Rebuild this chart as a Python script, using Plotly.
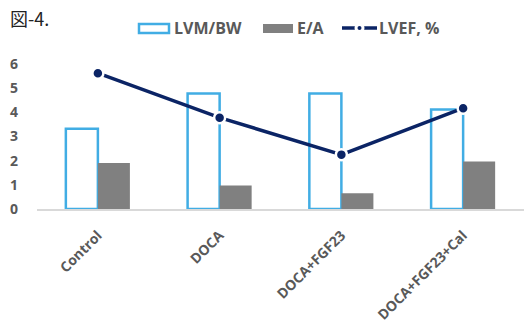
import plotly.graph_objects as go

categories = ["Control", "DOCA", "DOCA+FGF23", "DOCA+FGF23+Cal"]
lvm_bw = [3.32, 4.78, 4.78, 4.12]
e_a = [1.9, 0.97, 0.65, 1.97]
lvef = [5.62, 3.78, 2.25, 4.17]
y_ticks = [0, 1, 2, 3, 4, 5, 6]
legend_names = ["LVM/BW", "E/A", "LVEF, %"]

grey_txt = "#595959"
font_main = "Open Sans"
blue = "#41ade4"
bar_grey = "#808080"
navy = "#0b2465"

W, H = 524, 329
ML, MR, MT, MB = 37, 0, 64, 120
PW, PH = W - ML - MR, H - MT - MB


def px(x):
    return (x - ML) / PW


def py(y):
    return (H - MB - y) / PH


fig = go.Figure()
fig.add_trace(go.Bar(
    x=categories, y=lvm_bw, name=legend_names[0],
    marker=dict(color="white", line=dict(color=blue, width=2.5)),
))
fig.add_trace(go.Bar(
    x=categories, y=e_a, name=legend_names[1],
    marker=dict(color=bar_grey, line=dict(width=0)),
))
fig.add_trace(go.Scatter(
    x=categories, y=lvef, name=legend_names[2], mode="lines+markers",
    line=dict(color=navy, width=3.5),
    marker=dict(size=11, color=navy, line=dict(color="white", width=2.5)),
))

fig.update_layout(
    width=W, height=H,
    margin=dict(l=ML, r=MR, t=MT, b=MB),
    paper_bgcolor="white", plot_bgcolor="white",
    barmode="group", bargap=0.474, bargroupgap=0,
    showlegend=False,
    xaxis=dict(tickangle=-45, showline=True, linecolor="#d9d9d9", linewidth=1.5,
               tickfont=dict(family=font_main, size=14, color=grey_txt, weight="bold"),
               showgrid=False, ticks="", ticklabelstandoff=11),
    yaxis=dict(range=[0, 6], tickvals=y_ticks, showgrid=False, zeroline=False,
               showline=False, ticks="", ticklabelstandoff=18,
               tickfont=dict(family=font_main, size=14, color=grey_txt, weight="bold")),
)

# custom legend
leg_y = 28
shapes = [
    dict(type="rect", xref="paper", yref="paper", x0=px(139), x1=px(169),
         y0=py(24), y1=py(33), line=dict(color=blue, width=2.5), fillcolor="white"),
    dict(type="rect", xref="paper", yref="paper", x0=px(263), x1=px(293),
         y0=py(24), y1=py(33), line=dict(width=0), fillcolor=bar_grey),
    dict(type="line", xref="paper", yref="paper", x0=px(342), x1=px(377),
         y0=py(leg_y), y1=py(leg_y), line=dict(color=navy, width=3.5)),
    dict(type="circle", xref="paper", yref="paper", x0=px(354.5), x1=px(364.5),
         y0=py(leg_y + 5), y1=py(leg_y - 5), line=dict(width=0), fillcolor="white"),
    dict(type="circle", xref="paper", yref="paper", x0=px(357.5), x1=px(361.5),
         y0=py(leg_y + 2), y1=py(leg_y - 2), line=dict(width=0), fillcolor=navy),
]
for s in shapes:
    fig.add_shape(**s)

for name, xl in zip(legend_names, [172, 295, 377]):
    fig.add_annotation(text=name, xref="paper", yref="paper", x=px(xl), y=py(leg_y),
                       xanchor="left", yanchor="middle", showarrow=False,
                       font=dict(family=font_main, size=16, color=grey_txt, weight="bold"))

fig.add_annotation(text="図-4.", xref="paper", yref="paper", x=px(8), y=py(18),
                   xanchor="left", yanchor="middle", showarrow=False,
                   font=dict(family="Noto Sans CJK JP", size=18, color="#222222"))
fig.write_html("out.html")
